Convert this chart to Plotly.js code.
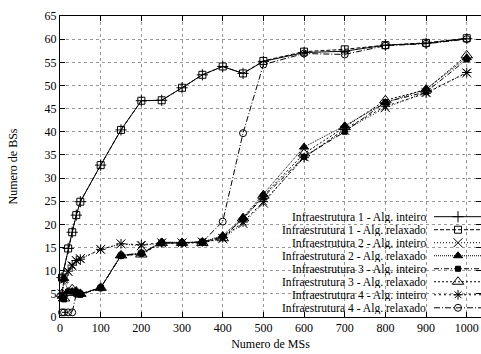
<!DOCTYPE html>
<html><head><meta charset="utf-8">
<script src="https://cdn.plot.ly/plotly-3.0.1.min.js"></script>
<style>html,body{margin:0;padding:0;background:#fff}#c{width:481px;height:354px}</style>
</head><body><div id="c"></div>
<script>
var xs = [5, 10, 20, 30, 40, 50, 100, 150, 200, 250, 300, 350, 400, 450, 500, 600, 700, 800, 900, 1000];
var seriesNames = [
  "Infraestrutura 1 - Alg. inteiro",
  "Infraestrutura 1 - Alg. relaxado",
  "Infraestrutura 2 - Alg. inteiro",
  "Infraestrutura 2 - Alg. relaxado",
  "Infraestrutura 3 - Alg. inteiro",
  "Infraestrutura 3 - Alg. relaxado",
  "Infraestrutura 4 - Alg. inteiro",
  "Infraestrutura 4 - Alg. relaxado"
];
var infra1Inteiro  = [8.5, null, 14.8, 18.3, 22.0, 24.9, 32.8, 40.4, 46.7, 46.8, 49.5, 52.3, 54.1, 52.6, 55.2, 57.1, 57.4, 58.7, 59.1, 60.1];
var infra1Relaxado = [8.5, null, 14.8, 18.3, 22.0, 24.9, 32.8, 40.4, 46.7, 46.8, 49.5, 52.3, 54.1, 52.6, 55.3, 57.3, 57.8, 58.7, 59.2, 60.2];
var infra2Inteiro  = [5.0, 8.3, 9.8, 11.0, 12.2, 12.6, 14.6, 15.8, 15.4, 16.0, 16.0, 16.2, 16.9, 20.2, 24.6, 34.6, 40.3, 45.2, 48.5, 52.7];
var infra2Relaxado = [4.5, 8.3, 5.5, 5.5, 5.5, 5.0, 6.3, 13.3, 13.8, 16.2, 16.1, 16.2, 17.6, 21.5, 26.5, 36.7, 41.3, 46.3, 49.2, 56.0];
var infra3Inteiro  = [4.0, 3.8, 5.5, 5.5, 5.2, 4.8, 6.3, 13.2, 13.7, 16.0, 16.0, 16.2, 17.3, 21.2, 25.9, 34.6, 40.0, 46.4, 48.6, 55.6];
var infra3Relaxado = [5.0, 4.0, 5.2, 6.0, 5.5, 5.0, 6.3, 13.3, 13.5, 16.0, 16.0, 16.0, 17.0, 21.3, 26.2, 35.3, 41.0, 46.8, 49.1, 56.5];
var infra4Inteiro  = [5.0, 8.0, 9.9, 11.2, 12.2, 12.5, 14.6, 15.8, 15.6, 16.0, 16.0, 16.2, 17.1, 20.5, 24.9, 34.4, 40.6, 45.5, 48.3, 52.8];
var infra4Relaxado = [1.0, 1.0, 1.0, 1.0, 5.0, 5.0, 6.3, 13.3, 13.8, 16.0, 16.0, 16.2, 20.6, 39.7, 54.5, 56.9, 56.7, 58.6, 59.0, 60.0];
var xTicks = [0, 100, 200, 300, 400, 500, 600, 700, 800, 900, 1000];
var yTicks = [0, 5, 10, 15, 20, 25, 30, 35, 40, 45, 50, 55, 60, 65];

var allY = [infra1Inteiro, infra1Relaxado, infra2Inteiro, infra2Relaxado, infra3Inteiro, infra3Relaxado, infra4Inteiro, infra4Relaxado];
var styles = [
  {dash:'solid', sym:'cross-thin-open', size:8},
  {dash:'4px,2px', sym:'square-open', size:7},
  {dash:'1px,2px', sym:'x-thin-open', size:9},
  {dash:'1px,1px', sym:'triangle-up', size:8},
  {dash:'5px,2px,1px,2px', sym:'square', size:5},
  {dash:'2px,2px', sym:'triangle-up-open', size:10},
  {dash:'2px,3px', sym:'asterisk-open', size:8},
  {dash:'6px,2px,1px,2px', sym:'circle-open', size:7}
];
var FONT = '"Liberation Serif", "Times New Roman", serif';
var traces = [];
allY.forEach(function(ys, i){
  var s = styles[i];
  traces.push({x: xs, y: ys, type:'scatter', mode:'lines+markers', connectgaps:true,
    name: seriesNames[i], showlegend:false, cliponaxis:false,
    line:{color:'#000', width:1, dash:s.dash},
    marker:{symbol:s.sym, size:s.size, color:'#000', line:{color:'#000', width:1}}});
});
// legend keys (pixel coords on an overlay axis)
var rowY0 = 216.5, rowDy = 13.0;
var annotations = [];
seriesNames.forEach(function(n, i){
  var s = styles[i];
  var yy = rowY0 + rowDy*i;
  traces.push({x:[434, 481], y:[yy, yy], xaxis:'x2', yaxis:'y2', type:'scatter', mode:'lines', showlegend:false, hoverinfo:'skip',
    line:{color:'#000', width:1, dash:s.dash}, cliponaxis:false});
  traces.push({x:[458], y:[yy], xaxis:'x2', yaxis:'y2', type:'scatter', mode:'markers', showlegend:false, hoverinfo:'skip',
    marker:{symbol:s.sym, size:s.size, color:'#000', line:{color:'#000', width:1}}, cliponaxis:false});
  annotations.push({xref:'x2', yref:'y2', x:427, y:yy, text:n, showarrow:false, xanchor:'right', yanchor:'middle',
    height:12, valign:'middle', borderpad:0,
    font:{family:FONT, size:11.6, color:'#000'}});
});
var layout = {
  width:481, height:354,
  margin:{l:60, r:0, t:16, b:37.3},
  paper_bgcolor:'#fff', plot_bgcolor:'#fff',
  font:{family:FONT, size:12, color:'#000'},
  showlegend:false,
  xaxis:{range:[0,1035], tickvals:xTicks, ticktext:xTicks.map(String), ticks:'inside', ticklen:5, tickcolor:'#000',
    showline:true, linecolor:'#000', linewidth:1, mirror:'ticks',
    showgrid:true, gridcolor:'#999', griddash:'dot', gridwidth:1, zeroline:false,
    tickfont:{family:FONT, size:12, color:'#000'},
    title:{text:'Numero de MSs', font:{family:FONT, size:12, color:'#000'}, standoff:5}},
  yaxis:{range:[0,65], tickvals:yTicks, ticktext:yTicks.map(String), ticks:'inside', ticklen:5, tickcolor:'#000',
    showline:true, linecolor:'#000', linewidth:1, mirror:'ticks',
    showgrid:true, gridcolor:'#999', griddash:'dot', gridwidth:1, zeroline:false,
    tickfont:{family:FONT, size:12, color:'#000'},
    title:{text:'Numero de BSs', font:{family:FONT, size:12, color:'#000'}, standoff:24}},
  xaxis2:{overlaying:'x', range:[60,481], visible:false, anchor:'y2', fixedrange:true},
  yaxis2:{overlaying:'y', range:[316.7,16], visible:false, anchor:'x2', fixedrange:true},
  annotations: annotations
};
Plotly.newPlot('c', traces, layout, {staticPlot:true, displayModeBar:false});
</script></body></html>
